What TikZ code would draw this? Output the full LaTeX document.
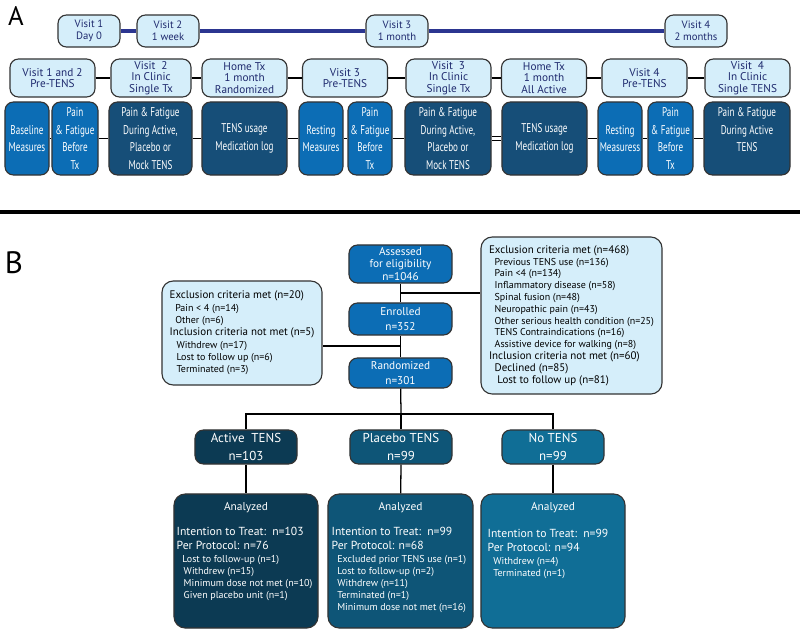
\documentclass[tikz,border=0pt]{standalone}
\usepackage{fontspec}
\setmainfont{PT Sans}
\newfontfamily\narrowfont[FakeStretch=0.72]{PT Sans}
\usepackage{tikz}
\usetikzlibrary{calc}

\definecolor{lightbox}{HTML}{D5EEFA}
\definecolor{midblue}{HTML}{0C6DB5}
\definecolor{deepblue}{HTML}{164E78}
\definecolor{navyline}{HTML}{2B3590}
\definecolor{navytext}{HTML}{1F2A6E}
\definecolor{activecol}{HTML}{0C3A53}
\definecolor{placebocol}{HTML}{0E5577}
\definecolor{nocol}{HTML}{106E96}
\definecolor{edgegray}{HTML}{333333}

\newcommand\hdfont{\fontsize{7.8}{8.8}\selectfont}
\newcommand\bighd{\fontsize{8.3}{8.8}\selectfont}
\newcommand\ind{\hspace*{4pt}}

\tikzset{
	box/.style={draw=edgegray, line width=0.8pt, rounded corners=6pt, align=center, inner sep=1pt},
	visitbox/.style={box, fill=lightbox, text=navytext, font=\fontsize{7.6}{8.6}\selectfont, minimum height=0.8cm, minimum width=1.55cm},
	stagebox/.style={box, fill=lightbox, text=navytext, font=\fontsize{8}{8}\selectfont, minimum height=0.95cm, minimum width=2.125cm},
	measbox/.style={box, fill=midblue, text=white, font=\narrowfont\fontsize{9}{12.5}\selectfont, minimum height=1.825cm, minimum width=1.1cm},
	darkbox/.style={box, fill=deepblue, text=white, font=\narrowfont\fontsize{9}{12.5}\selectfont, minimum height=1.825cm, minimum width=2.125cm},
	flowbox/.style={box, fill=midblue, text=white, font=\fontsize{8}{9}\selectfont, minimum width=2.575cm},
	notebox/.style={box, fill=lightbox, text=black, align=left, rounded corners=8pt, font=\fontsize{7.1}{8.8}\selectfont},
	armbox/.style={box, text=white, font=\fontsize{9.2}{12.5}\selectfont, minimum width=2.55cm, minimum height=0.85cm},
	resultbox/.style={box, rounded corners=8pt, minimum width=3.6cm, minimum height=3.35cm},
	resulthead/.style={text=white, inner sep=0pt, font=\fontsize{8.1}{9}\selectfont},
	resulttext/.style={anchor=north west, align=left, text=white, inner sep=0pt, font=\fontsize{7.1}{8.7}\selectfont},
	biglabel/.style={inner sep=0pt, font=\fontsize{22}{22}\selectfont},
	link/.style={line width=0.9pt},
}

\begin{document}
\begin{tikzpicture}[x=0.025cm, y=-0.025cm]
	\useasboundingbox (0,0) rectangle (800,629);
	\node[biglabel, font=\fontsize{19}{19}\selectfont] (labA) at (16,16) {A};
	\node[biglabel] (labB) at (14,263) {B};

	\node[visitbox] (v1) at (89,31) {Visit 1\\Day 0};
	\node[visitbox] (v2) at (168,31) {Visit 2\\1 week};
	\node[visitbox] (v3) at (397,31) {Visit 3\\1 month};
	\node[visitbox] (v4) at (696,31) {Visit 4\\2 months};
	\draw[navyline, line width=2.4pt] (v1) -- (v2) -- (v3) -- (v4);

	\node[stagebox] (s1) at (52.5,78) {Visit 1 and 2\\Pre-TENS};
	\node[stagebox, minimum width=2cm] (s2) at (151,78) {Visit\ \ 2\\In Clinic\\Single Tx};
	\node[stagebox] (s3) at (244.5,78) {Home Tx\\1 month\\Randomized};
	\node[stagebox] (s4) at (345,78) {Visit 3\\Pre-TENS};
	\node[stagebox] (s5) at (448.5,78) {Visit\ \ 3\\In Clinic\\Single Tx};
	\node[stagebox] (s6) at (544,78) {Home Tx\\1 month\\All Active};
	\node[stagebox] (s7) at (644.5,78) {Visit 4\\Pre-TENS};
	\node[stagebox] (s8) at (747.5,78) {Visit\ \ 4\\In Clinic\\Single TENS};
	\foreach \a/\b in {s1/s2,s2/s3,s3/s4,s4/s5,s5/s6,s6/s7,s7/s8}
		\draw[link] (\a) -- (\b);

	\node[measbox] (m1) at (27,138.5) {Baseline\\Measures};
	\node[measbox, minimum width=1.15cm] (m2) at (75,138.5) {Pain\\\& Fatigue\\Before\\Tx};
	\node[darkbox, minimum width=2.075cm] (m3) at (150.5,138.5) {Pain \& Fatigue\\During Active,\\Placebo or\\Mock TENS};
	\node[darkbox] (m4) at (244.5,138.5) {TENS usage\\Medication log};
	\node[measbox] (m5) at (321,138.5) {Resting\\Measures};
	\node[measbox] (m6) at (370,138.5) {Pain\\\& Fatigue\\Before\\Tx};
	\node[darkbox, minimum width=2.15cm] (m7) at (448,138.5) {Pain \& Fatigue\\During Active,\\Placebo or\\Mock TENS};
	\node[darkbox] (m8) at (544.5,138.5) {TENS usage\\Medication log};
	\node[measbox] (m9) at (620,138.5) {Resting\\Measuress};
	\node[measbox, minimum width=1.125cm] (m10) at (670.5,138.5) {Pain\\\& Fatigue\\Before\\Tx};
	\node[darkbox, minimum width=2.15cm] (m11) at (747,138.5) {Pain \& Fatigue\\During Active\\TENS\\\phantom{T}};
	\foreach \a/\b in {m1/m2,m2/m3,m3/m4,m4/m5,m5/m6,m6/m7,m8/m9,m9/m10,m10/m11}
		\draw[link] (\a) -- (\b);
	\draw[line width=0.7pt, double, double distance=1.6pt] (m7) -- (m8);

	\coordinate (sepL) at (0,212); \coordinate (sepR) at (800,212);
	\draw[line width=2.6pt] (sepL) -- (sepR);

	\node[flowbox, minimum height=0.95cm] (assess) at (400.5,264) {Assessed\\for eligibility\\n=1046};
	\node[flowbox, minimum height=0.8cm] (enroll) at (400.5,319) {Enrolled\\[2pt]n=352};
	\node[flowbox, minimum height=0.75cm] (random) at (400.5,373) {Randomized\\[2pt]n=301};
	\node[notebox, minimum width=4cm, minimum height=2.6cm] (exclL) at (242,333) {\hdfont Exclusion criteria met (n=20)\\
		\ind Pain < 4 (n=14)\\
		\ind Other (n=6)\\
		\hdfont Inclusion criteria not met (n=5)\\
		\ind\hspace*{1pt}Withdrew (n=17)\\
		\ind\hspace*{1pt}Lost to follow up (n=6)\\
		\ind\hspace*{1pt}Terminated (n=3)};
	\node[notebox, font=\fontsize{7.1}{8.4}\selectfont, minimum width=4.525cm, minimum height=3.925cm] (exclR) at (571.5,315.5) {\hdfont Exclusion criteria met (n=468)\\
		\ind Previous TENS use (n=136)\\
		\ind Pain <4 (n=134)\\
		\ind Inflammatory disease (n=58)\\
		\ind Spinal fusion (n=48)\\
		\ind Neuropathic pain (n=43)\\
		\ind Other serious health condition (n=25)\\
		\ind TENS Contraindications (n=16)\\
		\ind Assistive device for walking (n=8)\\
		\hdfont Inclusion criteria not met (n=60)\\
		\hdfont\ind Declined (n=85)\\
		\hdfont\ind\hspace*{2pt}Lost to follow up (n=81)};
	\coordinate (jR) at (401,293); \coordinate (jL) at (401,346); \coordinate (br) at (401,414);
	\draw[link] (assess) -- (enroll); \draw[link] (enroll) -- (random); \draw[link] (random) -- (br);
	\draw[link] (jR) -- (jR -| exclR.west); \draw[link] (jL) -- (jL -| exclL.east);

	\node[armbox, fill=activecol] (active) at (246,447) {Active\ \ TENS\\n=103};
	\node[armbox, fill=placebocol] (placebo) at (401,447) {Placebo TENS\\n=99};
	\node[armbox, fill=nocol] (notens) at (553,447) {No TENS\\n=99};
	\draw[link] (active.north) |- (br) -| (notens.north); \draw[link] (br) -- (placebo.north);

	\node[resultbox, fill=activecol] (resA) at (246,561) {};
	\node[resultbox, fill=placebocol, minimum width=3.625cm] (resP) at (400.5,561) {};
	\node[resultbox, fill=nocol] (resN) at (553,561) {};
	\draw[link] (active) -- (resA); \draw[link] (placebo) -- (resP); \draw[link] (notens) -- (resN);

	\node[resulthead] (resAhd) at ($(resA.north)+(0,14)$) {Analyzed};
	\node[resulthead] (resPhd) at ($(resP.north)+(0,14)$) {Analyzed};
	\node[resulthead] (resNhd) at ($(resN.north)+(0,14)$) {Analyzed};
	\node[resulttext] (resAtxt) at ($(resA.north west)+(3,33)$) {\bighd Intention to Treat:\ \ n=103\\[1.3pt]
		\bighd Per Protocol: n=76\\[0.5pt]
		\ind Lost to follow-up (n=1)\\
		\ind\hspace*{1pt}Withdrew (n=15)\\
		\ind\hspace*{1pt}Minimum dose not met (n=10)\\
		\ind\hspace*{1pt}Given placebo unit (n=1)};
	\node[resulttext] (resPtxt) at ($(resP.north west)+(4,33)$) {\bighd Intention to Treat:\ \ n=99\\[1.3pt]
		\bighd Per Protocol: n=68\\[0.5pt]
		\ind Excluded prior TENS use (n=1)\\
		\ind Lost to follow-up (n=2)\\
		\ind Withdrew (n=11)\\
		\ind Terminated (n=1)\\
		\ind Minimum dose not met (n=16)};
	\node[resulttext] (resNtxt) at ($(resN.north west)+(7,35)$) {\bighd Intention to Treat:\ \ n=99\\[1.3pt]
		\bighd Per Protocol: n=94\\[0.5pt]
		\ind Withdrew (n=4)\\
		\ind Terminated (n=1)};
\end{tikzpicture}
\end{document}
